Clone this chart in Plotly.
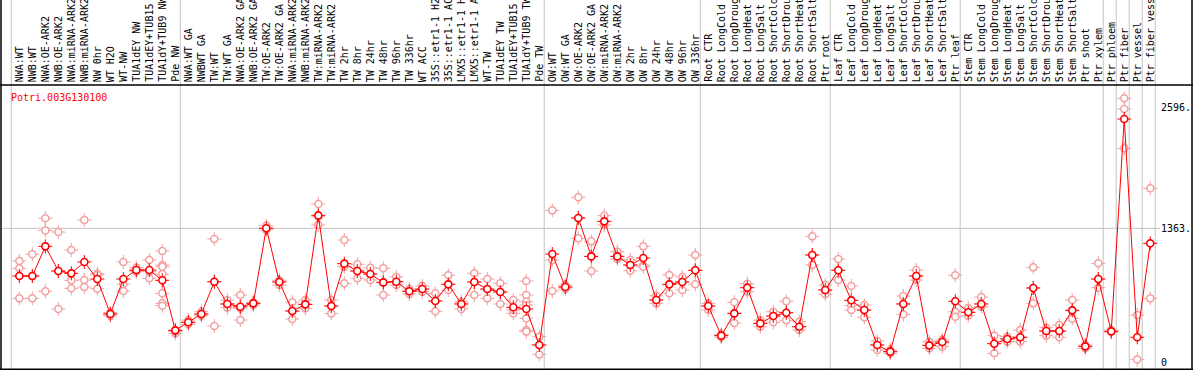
import plotly.graph_objects as go

categories = [
    "NWA:WT", "NWB:WT", "NWA:OE-ARK2", "NWB:OE-ARK2", "NWA:miRNA-ARK2", "NWB:miRNA-ARK2",
    "NW 0hr", "WT H2O", "WT-NW", "TUA1dEY NW", "TUA1dEY+TUB15 NW", "TUA1dY+TUB9 NW", "Pde NW",
    "NWA:WT GA", "NWBWT GA", "TW:WT", "TW:WT GA", "NWA:OE-ARK2 GA", "NWB:OE-ARK2 GA",
    "TW:OE-ARK2", "TW:OE-ARK2 GA", "NWA:miRNA-ARK2 GA", "NWB:miRNA-ARK2 GA", "TW:miRNA-ARK2",
    "TW:miRNA-ARK2", "TW 2hr", "TW 8hr", "TW 24hr", "TW 48hr", "TW 96hr", "TW 336hr", "WT ACC",
    "35S::etr1-1 H2O", "35S::etr1-1 ACC", "LMX5::etr1-1 H2O", "LMX5::etr1-1 ACC", "WT-TW",
    "TUA1dEY TW", "TUA1dEY+TUB15 TW", "TUA1dY+TUB9 TW", "Pde TW",
    "OW:WT", "OW:WT GA", "OW:OE-ARK2", "OW:OE-ARK2 GA", "OW:miRNA-ARK2", "OW:miRNA-ARK2",
    "OW 2hr", "OW 8hr", "OW 24hr", "OW 48hr", "OW 96hr", "OW 336hr",
    "Root CTR", "Root LongCold", "Root LongDrought", "Root LongHeat", "Root LongSalt",
    "Root ShortCold", "Root ShortDrought", "Root ShortHeat", "Root ShortSalt", "Ptr root",
    "Leaf CTR", "Leaf LongCold", "Leaf LongDrought", "Leaf LongHeat", "Leaf LongSalt",
    "Leaf ShortCold", "Leaf ShortDrought", "Leaf ShortHeat", "Leaf ShortSalt", "Ptr leaf",
    "Stem CTR", "Stem LongCold", "Stem LongDrought", "Stem LongHeat", "Stem LongSalt",
    "Stem ShortCold", "Stem ShortDrought", "Stem ShortHeat", "Stem ShortSalt", "Ptr shoot",
    "Ptr xylem", "Ptr phloem", "Ptr fiber", "Ptr vessel", "Ptr fiber vessel",
]

means = [
    877, 877, 1179, 928, 904, 1020, 846, 490, 846, 938, 938, 833, 323,
    405, 490, 819, 592, 564, 598, 1363, 816, 520, 588, 1495, 571, 1003, 928, 897,
    812, 819, 721, 744, 622, 792, 592, 816, 744, 714, 558, 541, 174,
    1101, 765, 1468, 1077, 1434, 1077, 989, 1060, 632, 792, 816, 935,
    571, 269, 496, 758, 394, 469, 503, 360, 1091, 734,
    935, 629, 530, 174, 106, 592, 877, 170, 204, 619,
    507, 592, 187, 235, 252, 755, 316, 316, 527, 160,
    846, 313, 2477, 252, 1210,
]

replicates = [
    [1030, 955, 649], [1098, 649, 877], [1465, 1342, 721], [1325, 541, 928],
    [1142, 833, 751], [1448, 836, 765], [901, 748, 889], [503, 469, 490],
    [1020, 795, 724], [962, 921, 931], [1040, 853, 921],
    [1132, 989, 972, 897, 700, 598, 575], [292, 323, 310],
    [428, 384, 405], [513, 473, 490], [1254, 367, 819], [632, 554, 592],
    [683, 428, 547], [609, 581, 598], [1390, 1363, 1346], [833, 785, 816],
    [609, 439, 520], [632, 547, 588], [1611, 1397, 1482], [632, 496, 571],
    [1244, 802, 972], [996, 853, 928], [962, 836, 897], [955, 683, 812],
    [867, 785, 819], [744, 693, 721], [775, 717, 744], [700, 517, 622],
    [884, 734, 792], [615, 541, 592], [904, 683, 816], [846, 649, 744],
    [802, 592, 714], [632, 496, 530], [826, 683, 615, 581, 445, 326, 310],
    [259, 78, 174],
    [1546, 1040, 724], [785, 744, 765], [1679, 1261, 1468], [1230, 928, 1077],
    [1492, 1397, 1434], [1125, 1050, 1077], [1040, 931, 989], [1179, 989, 972],
    [676, 598, 632], [887, 700, 792], [867, 734, 816], [1091, 792, 935],
    [598, 530, 571], [282, 252, 269], [609, 398, 496], [799, 717, 758],
    [428, 360, 394], [513, 405, 469], [619, 425, 503], [411, 326, 360],
    [1281, 989, 1091], [785, 690, 734],
    [1050, 836, 935], [775, 575, 530], [581, 456, 530], [214, 123, 174],
    [123, 89, 106], [673, 486, 592], [938, 836, 877], [208, 140, 170],
    [225, 157, 204], [884, 513, 462],
    [554, 473, 507], [663, 564, 592], [269, 89, 187], [259, 208, 235],
    [326, 208, 252], [965, 598, 755], [350, 269, 316], [377, 252, 316],
    [632, 445, 527], [174, 140, 160],
    [1006, 758, 846], [326, 303, 313], [2688, 2579, 2178], [479, 27], [1771, 649],
]

y_ticks = [0, 1363, 2596]
y_tick_text = ["0", "1363.", "2596."]
group_starts = [0, 13, 41, 53, 63, 73, 84, 85, 86, 87, 88]
gene_name = "Potri.003G130100"

RED = "#ff0000"
LIGHT = "#f2a0a0"
GRID = "#c4c4c4"
MONO = "DejaVu Sans Mono"

x_idx = list(range(len(categories)))
rep_x = [i for i, r in enumerate(replicates) for _ in r]
rep_y = [v for r in replicates for v in r]

fig = go.Figure()
# replicate markers: small spikes then ring
fig.add_trace(go.Scatter(x=rep_x, y=rep_y, mode="markers", hoverinfo="skip",
                         marker=dict(symbol="cross-thin-open", size=10, color=LIGHT,
                                     line=dict(color=LIGHT, width=1))))
fig.add_trace(go.Scatter(x=rep_x, y=rep_y, mode="markers",
                         marker=dict(symbol="circle", size=7, color="white",
                                     line=dict(color=LIGHT, width=1.5))))
# mean line
fig.add_trace(go.Scatter(x=x_idx, y=means, mode="lines", hoverinfo="skip",
                         line=dict(color=RED, width=1)))
fig.add_trace(go.Scatter(x=x_idx, y=means, mode="markers", hoverinfo="skip",
                         marker=dict(symbol="cross-thin-open", size=10, color=RED,
                                     line=dict(color=RED, width=1))))
fig.add_trace(go.Scatter(x=x_idx, y=means, mode="markers",
                         marker=dict(symbol="circle", size=7, color="white",
                                     line=dict(color=RED, width=1.6))))

W, H = 1194, 370
L, R, T, B = 1, 34, 85, 1
pw, ph = W - L - R, H - T - B

def px_x(p):
    return (p - L) / pw

def px_y(p):
    return (H - B - p) / ph

shapes = []
# group separators
for s in group_starts:
    shapes.append(dict(type="line", xref="x", yref="paper", x0=s - 0.62, x1=s - 0.62,
                       y0=0, y1=px_y(0), line=dict(color=GRID, width=1), layer="below"))
# horizontal grid line at middle tick
shapes.append(dict(type="line", xref="paper", yref="y", x0=0, x1=1, y0=y_ticks[1], y1=y_ticks[1],
                   line=dict(color=GRID, width=1), layer="below"))
# frame
blk = dict(color="black", width=1.5)
shapes.append(dict(type="line", xref="paper", yref="paper", x0=px_x(0), x1=px_x(1193),
                   y0=1, y1=1, line=blk))
shapes.append(dict(type="line", xref="paper", yref="paper", x0=px_x(0), x1=px_x(1193),
                   y0=px_y(369.2), y1=px_y(369.2), line=blk))
shapes.append(dict(type="line", xref="paper", yref="paper", x0=px_x(1), x1=px_x(1),
                   y0=px_y(370), y1=px_y(0), line=blk))
shapes.append(dict(type="line", xref="paper", yref="paper", x0=px_x(1192), x1=px_x(1192),
                   y0=px_y(370), y1=px_y(0), line=blk))

annotations = []
for i, lab in enumerate(categories):
    annotations.append(dict(x=i, y=1, xref="x", yref="paper", text=lab, showarrow=False,
                            textangle=-90, xanchor="center", yanchor="bottom", yshift=1,
                            font=dict(family=MONO, size=10, color="black")))
annotations.append(dict(x=px_x(9), y=px_y(97), xref="paper", yref="paper", text=gene_name,
                        showarrow=False, xanchor="left", yanchor="middle",
                        font=dict(family=MONO, size=10, color=RED)))

fig.update_layout(
    width=W, height=H, margin=dict(l=L, r=R, t=T, b=B, autoexpand=False),
    paper_bgcolor="white", plot_bgcolor="white", showlegend=False,
    xaxis=dict(range=[-1.41, 87.75], showgrid=False, zeroline=False, showticklabels=False,
               ticks="", showline=False, fixedrange=True),
    yaxis=dict(range=[-71, 2824], side="right", showgrid=False, zeroline=False,
               tickvals=y_ticks, ticktext=y_tick_text, ticks="", showline=False,
               tickfont=dict(family=MONO, size=10, color="black"), automargin=False),
    shapes=shapes, annotations=annotations,
)

fig.write_html("out.html", config={"displayModeBar": False},
               post_script="document.body.style.margin='0';document.body.style.overflow='hidden';")
